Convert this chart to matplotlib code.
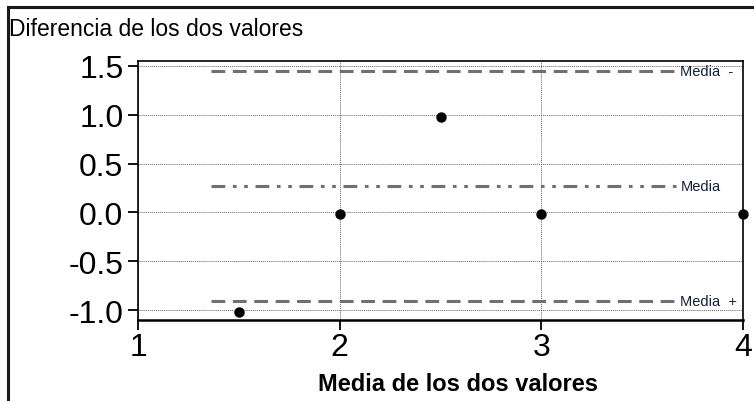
import matplotlib
matplotlib.use("Agg")
import matplotlib.pyplot as plt
from matplotlib.patches import Rectangle

plt.rcParams["font.family"] = ["Liberation Sans", "DejaVu Sans"]

# data: mean of the two values vs difference of the two values
x_mean = [1.5, 2.0, 2.5, 3.0, 4.0]
y_diff = [-1.02, -0.02, 0.98, -0.02, -0.02]

ref_names = ["Media  -", "Media", "Media  +"]
ref_vals = [1.45, 0.27, -0.91]
ref_styles = [(0, (4.5, 2.5)), (0, (4.5, 2.5, 1.2, 2.5, 1.2, 2.5)), (0, (4.5, 2.5))]
ref_span = (1.36, 3.67)

xticks = [1, 2, 3, 4]
yticks = [-1.0, -0.5, 0.0, 0.5, 1.0, 1.5]

fig = plt.figure(figsize=(7.54, 4.02), dpi=100)
ax = fig.add_axes([138 / 754, 1 - 321 / 402, 605 / 754, 259 / 402])

# frame around figure (left/top visible)
fig.patches.append(Rectangle((8 / 754, -0.05), 1.1, 1 - 8 / 402 + 0.05,
                             transform=fig.transFigure, fill=False,
                             edgecolor="#1a1a1a", lw=2.2, zorder=0))

ax.grid(True, color="#666666", ls=(0, (1, 1)), lw=0.7)
ax.set_axisbelow(True)

for v, name, ls in zip(ref_vals, ref_names, ref_styles):
    ax.plot(ref_span, [v, v], color="#707070", lw=2.2, ls=ls)
    ax.text(ref_span[1] + 0.02, v, name, fontsize=10.5, color="#14213d",
            va="center", ha="left")

ax.scatter(x_mean, y_diff, s=42, color="black", zorder=3, clip_on=False)

ax.set_xlim(1, 4)
ax.set_ylim(-1.1, 1.55)
ax.set_xticks(xticks)
ax.set_xticklabels([str(t) for t in xticks])
ax.set_yticks(yticks)
ax.set_yticklabels([f"{t:.1f}" for t in yticks])
ax.tick_params(axis="both", labelsize=23, length=7, width=1.3, color="black")
ax.tick_params(axis="x", pad=2)
for s in ["left", "top", "right"]:
    ax.spines[s].set_linewidth(1.2)
ax.spines["bottom"].set_linewidth(1.8)

fig.text(9 / 754, 1 - 30 / 402, "Diferencia de los dos valores", fontsize=16.5,
         ha="left", va="center")
fig.text(458 / 754, 1 - 385 / 402, "Media de los dos valores", fontsize=17,
         fontweight="bold", ha="center", va="center")

fig.savefig("out.png", dpi=100)
